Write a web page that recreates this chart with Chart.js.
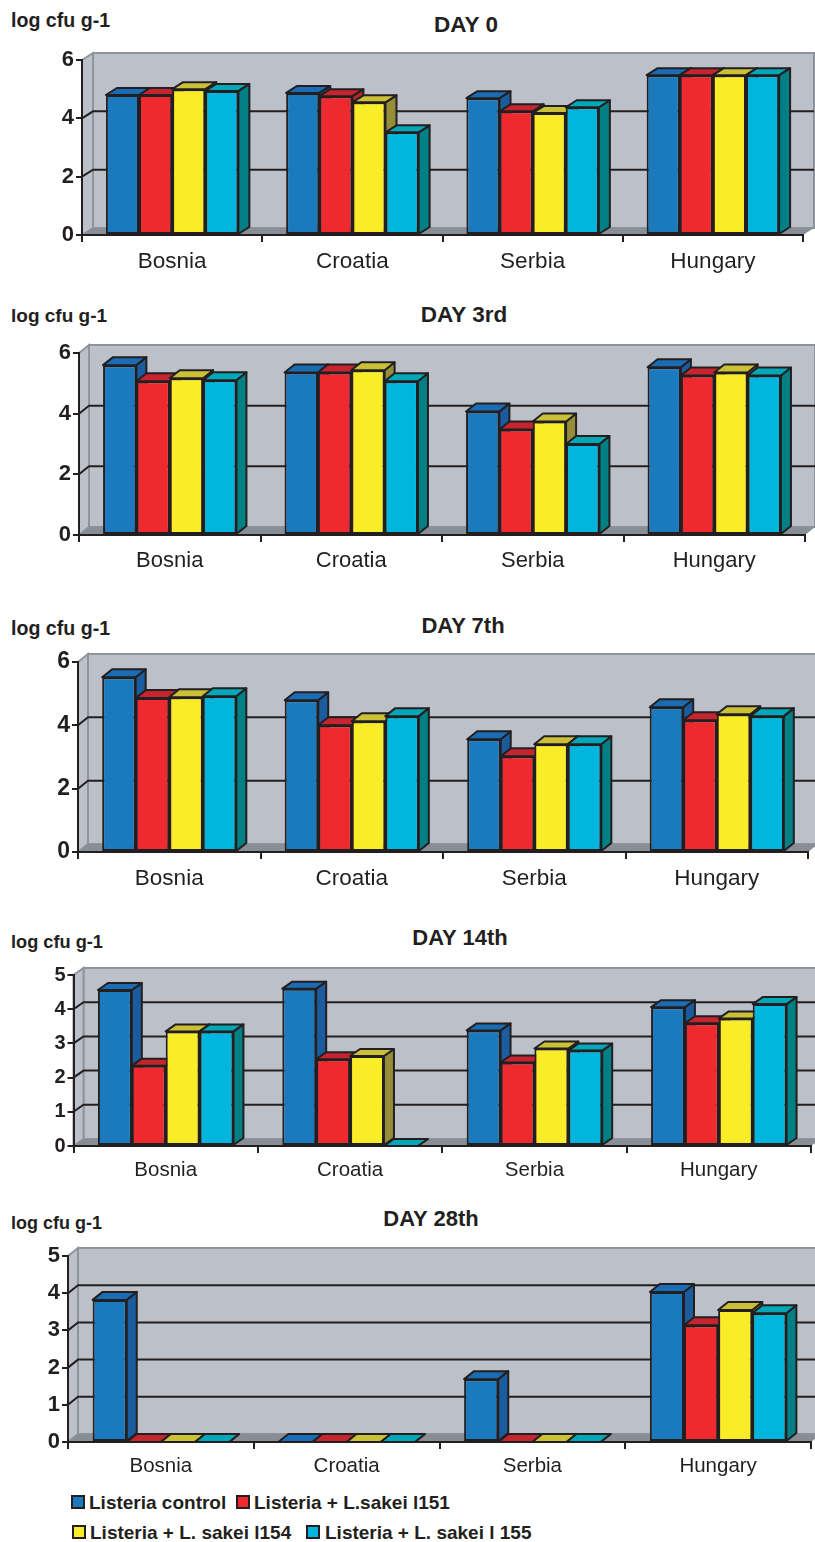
<!DOCTYPE html>
<html>
<head>
<meta charset="UTF-8" />
<title>Listeria counts</title>
<script src="https://cdn.jsdelivr.net/npm/chart.js@4/dist/chart.umd.min.js"></script>
<style>
    html, body { margin: 0; padding: 0; background: #fff; }
    body { position: relative; width: 815px; height: 1542px; overflow: hidden; font-family: "Liberation Sans", Arial, sans-serif; color: #231f20; }
    canvas { position: absolute; left: 0; }
    .txt { position: absolute; font-weight: bold; white-space: nowrap; line-height: 1; }
    .title { transform: translate(-50%, -50%); }
    .unit { transform: translateY(-50%); }
    .sw { position: absolute; width: 10px; height: 10px; border: 2px solid #231f20; }
</style>
</head>
<body>
<script>
// values, one row per series
var categories = ["Bosnia", "Croatia", "Serbia", "Hungary"];
var seriesNames = ["Listeria control", "Listeria + L.sakei l151", "Listeria + L. sakei l154", "Listeria + L. sakei l 155"];
var dayTitles = ["DAY 0", "DAY 3rd", "DAY 7th", "DAY 14th", "DAY 28th"];
var unitLabel = "log cfu g-1";

var day0 = [
    [4.80, 4.87, 4.69, 5.48],
    [4.80, 4.76, 4.24, 5.48],
    [5.00, 4.55, 4.18, 5.48],
    [4.94, 3.52, 4.38, 5.48]
];
var day3 = [
    [5.60, 5.36, 4.07, 5.53],
    [5.07, 5.36, 3.48, 5.26],
    [5.17, 5.43, 3.74, 5.36],
    [5.10, 5.07, 3.00, 5.26]
];
var day7 = [
    [5.52, 4.79, 3.56, 4.57],
    [4.86, 4.00, 3.02, 4.16],
    [4.89, 4.13, 3.40, 4.35],
    [4.92, 4.29, 3.40, 4.29]
];
var day14 = [
    [4.56, 4.60, 3.38, 4.06],
    [2.35, 2.54, 2.44, 3.59],
    [3.35, 2.63, 2.85, 3.73],
    [3.35, 0, 2.79, 4.15]
];
var day28 = [
    [3.82, 0, 1.69, 4.03],
    [0, 0, 0, 3.14],
    [0, 0, 0, 3.55],
    [0, 0, 0, 3.46]
];
var allDays = [day0, day3, day7, day14, day28];
var axisMax = [6, 6, 6, 5, 5];
var axisStep = [2, 2, 2, 1, 1];

// colours: front, top, side
var fronts = ["#1b79be", "#ee2a2e", "#f9ec28", "#00b6de"];
var tops = ["#1a6cb4", "#c4252e", "#cbc136", "#02a7b8"];
var sides = ["#1b5c9e", "#b8262c", "#948e38", "#007f84"];
var dark = "#231f20";

// page layout of each panel
var panels = [
    { top: 40,   x0: 82, x1: 803, yTop: 60,   y0: 235,  dx: 11, dy: 7, label: 22.5, tick: 22, titleX: 466, titleY: 25,   titleSize: 22.5, unitY: 21,   unitSize: 19.6, pad: 6 },
    { top: 335,  x0: 79, x1: 805, yTop: 353,  y0: 535,  dx: 10, dy: 8, label: 22,   tick: 22, titleX: 464, titleY: 315,  titleSize: 22.5, unitY: 315,  unitSize: 19,   pad: 6 },
    { top: 640,  x0: 78, x1: 808, yTop: 662,  y0: 852,  dx: 10, dy: 8, label: 22.5, tick: 23, titleX: 463, titleY: 626,  titleSize: 22,   unitY: 629,  unitSize: 19.6, pad: 6 },
    { top: 960,  x0: 73.5, x1: 811, yTop: 975, y0: 1146, dx: 10, dy: 7, label: 20.5, tick: 20, titleX: 460, titleY: 938, titleSize: 22,   unitY: 942,  unitSize: 18.2, pad: 5 },
    { top: 1240, x0: 68, x1: 811, yTop: 1256, y0: 1442, dx: 10, dy: 8, label: 20.5, tick: 22, titleX: 431, titleY: 1219, titleSize: 22,   unitY: 1223, unitSize: 18, pad: 5 }
];

function poly(ctx, pts, fill, stroke, w) {
    ctx.beginPath();
    pts.forEach(function (p, i) { i ? ctx.lineTo(p[0], p[1]) : ctx.moveTo(p[0], p[1]); });
    ctx.closePath();
    if (fill) { ctx.fillStyle = fill; ctx.fill(); }
    if (stroke) { ctx.strokeStyle = stroke; ctx.lineWidth = w; ctx.stroke(); }
}

// back wall, side wall, floor and wall gridlines
var wallPlugin = {
    id: "wall",
    beforeDraw: function (chart, args, opts) {
        var ctx = chart.ctx, a = chart.chartArea, y = chart.scales.y, dx = opts.dx, dy = opts.dy;
        ctx.save();
        var edge = "#8d949c";
        poly(ctx, [[a.left + dx, a.top - dy], [a.right + dx, a.top - dy], [a.right + dx, a.bottom - dy], [a.left + dx, a.bottom - dy]], "#bcc1c9", edge, 2);
        poly(ctx, [[a.left, a.top], [a.left + dx, a.top - dy], [a.left + dx, a.bottom - dy], [a.left, a.bottom]], "#bcc1c9", edge, 2);
        poly(ctx, [[a.left, a.bottom], [a.left + dx, a.bottom - dy], [a.right + dx, a.bottom - dy], [a.right, a.bottom]], "#878e96", null, 0);
        y.ticks.forEach(function (t) {
            if (t.value === 0 || t.value === y.max) return;
            var py = y.getPixelForValue(t.value);
            ctx.beginPath();
            ctx.moveTo(a.left, py);
            ctx.lineTo(a.left + dx, py - dy);
            ctx.lineTo(a.right + dx, py - dy);
            ctx.strokeStyle = dark;
            ctx.lineWidth = 2;
            ctx.stroke();
        });
        ctx.restore();
    },
    // side and top of each bar, left to right, the library paints the front after
    beforeDatasetsDraw: function (chart, args, opts) {
        var ctx = chart.ctx, dx = opts.dx, dy = opts.dy;
        ctx.save();
        ctx.lineJoin = "round";
        categories.forEach(function (c, i) {
            chart.data.datasets.forEach(function (ds, s) {
                var b = chart.getDatasetMeta(s).data[i];
                var l = b.x - b.width / 2, r = b.x + b.width / 2;
                poly(ctx, [[r, b.y], [r + dx, b.y - dy], [r + dx, b.base - dy], [r, b.base]], sides[s], dark, 2);
                poly(ctx, [[l, b.y], [l + dx, b.y - dy], [r + dx, b.y - dy], [r, b.y]], tops[s], dark, 2);
            });
        });
        ctx.restore();
    }
};

panels.forEach(function (p, n) {
    var cv = document.createElement("canvas");
    var h = p.y0 - p.top + 45;
    cv.width = 815;
    cv.height = h;
    cv.style.top = p.top + "px";
    document.body.appendChild(cv);

    new Chart(cv, {
        type: "bar",
        plugins: [wallPlugin],
        data: {
            labels: categories,
            datasets: allDays[n].map(function (row, s) {
                return {
                    label: seriesNames[s],
                    data: row,
                    backgroundColor: fronts[s],
                    borderColor: dark,
                    borderWidth: 2,
                    borderSkipped: false,
                    barPercentage: 1,
                    categoryPercentage: 0.735
                };
            })
        },
        options: {
            responsive: false,
            animation: false,
            layout: { padding: { left: 0, right: 815 - p.x1, top: p.yTop - p.top, bottom: 0 } },
            plugins: {
                legend: { display: false },
                tooltip: { enabled: false },
                wall: { dx: p.dx, dy: p.dy }
            },
            scales: {
                x: {
                    afterFit: function (s) { s.height = h - (p.y0 - p.top); },
                    border: { color: dark, width: 2 },
                    grid: { drawOnChartArea: false, color: dark, lineWidth: 2, tickLength: 7 },
                    ticks: {
                        color: dark,
                        padding: p.pad,
                        maxRotation: 0,
                        autoSkip: false,
                        font: { family: "Liberation Sans", size: p.label }
                    }
                },
                y: {
                    min: 0,
                    max: axisMax[n],
                    afterFit: function (s) { s.width = p.x0; },
                    border: { color: dark, width: 2 },
                    grid: { drawOnChartArea: false, color: dark, lineWidth: 2, tickLength: 6 },
                    ticks: {
                        stepSize: axisStep[n],
                        color: dark,
                        padding: 2,
                        font: { family: "Liberation Sans", size: p.tick, weight: "bold" }
                    }
                }
            }
        }
    });

    var t = document.createElement("div");
    t.className = "txt title";
    t.textContent = dayTitles[n];
    t.style.left = p.titleX + "px";
    t.style.top = p.titleY + "px";
    t.style.fontSize = p.titleSize + "px";
    document.body.appendChild(t);

    var u = document.createElement("div");
    u.className = "txt unit";
    u.textContent = unitLabel;
    u.style.left = "11px";
    u.style.top = p.unitY + "px";
    u.style.fontSize = p.unitSize + "px";
    document.body.appendChild(u);
});

// legend, two rows under the last panel
var legendSpots = [
    { sw: 71, tx: 89, y: 1502 },
    { sw: 236, tx: 254, y: 1502 },
    { sw: 72, tx: 90, y: 1532 },
    { sw: 306, tx: 325, y: 1532 }
];
legendSpots.forEach(function (k, s) {
    var box = document.createElement("div");
    box.className = "sw";
    box.style.left = k.sw + "px";
    box.style.top = (k.y - 7) + "px";
    box.style.background = fronts[s];
    document.body.appendChild(box);

    var tx = document.createElement("div");
    tx.className = "txt unit";
    tx.textContent = seriesNames[s];
    tx.style.left = k.tx + "px";
    tx.style.top = k.y + "px";
    tx.style.fontSize = "19px";
    document.body.appendChild(tx);
});
</script>
</body>
</html>
